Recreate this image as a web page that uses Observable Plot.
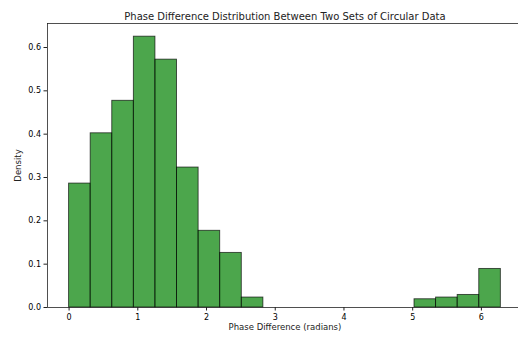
<!DOCTYPE html>
<html>
<head>
<meta charset="utf-8">
<script src="https://cdn.jsdelivr.net/npm/d3@7"></script>
<script src="https://cdn.jsdelivr.net/npm/@observablehq/plot@0.6"></script>
<style>
  html, body { margin: 0; padding: 0; background: white; }
  #chart svg { display: block; }
</style>
</head>
<body>
<div id="chart"></div>
<script>
const binCount = 20;
const binStart = 0;
const binEnd = 2 * Math.PI;
const densities = [0.286, 0.402, 0.477, 0.625, 0.572, 0.323, 0.177, 0.126, 0.023, 0, 0, 0, 0, 0, 0, 0, 0.019, 0.023, 0.029, 0.089];
const xTicks = [0, 1, 2, 3, 4, 5, 6];
const yTicks = [0, 0.1, 0.2, 0.3, 0.4, 0.5, 0.6];
const title = "Phase Difference Distribution Between Two Sets of Circular Data";
const xLabel = "Phase Difference (radians)";
const yLabel = "Density";

const bw = (binEnd - binStart) / binCount;
const bins = densities.map((d, i) => ({x1: binStart + i * bw, x2: binStart + (i + 1) * bw, y: d}));

const xMin = binStart - 0.05 * (binEnd - binStart);
const xFull = binEnd + 0.05 * (binEnd - binStart);
const xCenter = (xMin + xFull) / 2;
const yMax = 0.6554;

const plot = Plot.plot({
  width: 518,
  height: 338,
  marginLeft: 47,
  marginRight: 0,
  marginTop: 23,
  marginBottom: 31,
  style: {fontFamily: "DejaVu Sans", fontSize: "8px", background: "white", overflow: "hidden"},
  x: {domain: [xMin, 6.54], ticks: xTicks, tickFormat: d => String(d), tickSize: 3.5, label: null},
  y: {domain: [0, yMax], ticks: yTicks, tickFormat: d => d.toFixed(1), tickSize: 3.5, label: null},
  marks: [
    Plot.rectY(bins, {x1: "x1", x2: "x2", y: "y", fill: "green", fillOpacity: 0.7, stroke: "black", strokeOpacity: 0.7, strokeWidth: 0.9}),
    Plot.axisX({ticks: xTicks, tickFormat: d => String(d), tickSize: 3.5, tickPadding: 3, fontSize: 8, label: null, stroke: "#222"}),
    Plot.axisY({ticks: yTicks, tickFormat: d => d.toFixed(1), tickSize: 3.5, tickPadding: 3, fontSize: 8, label: null, stroke: "#222"}),
    Plot.ruleY([0], {stroke: "#222", strokeWidth: 0.8}),
    Plot.ruleY([yMax], {stroke: "#222", strokeWidth: 0.8}),
    Plot.ruleX([xMin], {stroke: "#222", strokeWidth: 0.8}),
    Plot.text([title], {x: xCenter, y: yMax, dy: -4, fontSize: 10, text: d => d, fill: "#222", lineAnchor: "bottom"}),
    Plot.text([xLabel], {x: xCenter, y: 0, dy: 16, fontSize: 8.5, text: d => d, fill: "#222", lineAnchor: "top"}),
    Plot.text([yLabel], {x: xMin, y: yMax / 2, dx: -29, rotate: -90, fontSize: 8.5, text: d => d, fill: "#222"})
  ]
});
document.getElementById("chart").appendChild(plot);
</script>
</body>
</html>
